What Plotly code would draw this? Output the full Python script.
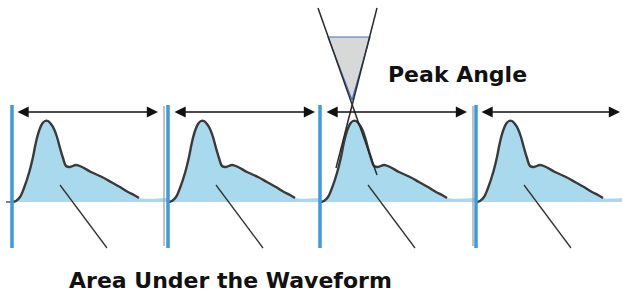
import plotly.graph_objects as go

# ---- data (diagram units: x in px along time, y = amplitude above baseline) ----
period_starts = [12, 168, 320, 476]          # blue marker lines (start of each period)
period_ends = [168, 320, 476, 622]           # where each period's baseline band ends
guide_lines_x = [164, 473]                   # thin gray guide lines
arrow_left = [16, 173, 325, 480]
arrow_right = [158, 315, 467, 620]
arrow_level = 90

wave_dx = [0, 4, 8, 12, 17, 21, 24, 27, 30, 33, 36, 39, 42, 45, 48, 51, 54,
           58, 64, 70, 79, 90, 99, 108, 116, 122, 127]
wave_amp = [0, 1, 5, 14, 29, 45, 60, 71, 78, 81, 81, 78, 73, 65, 54, 44, 36,
            35, 37, 35, 30, 25, 20, 15, 10, 7, 4]
band_amp = 4

marker_top, marker_bottom = 97, -46
leader_dx = [48, 95]
leader_amp = [17, -46]

# peak angle construction (3rd period)
tangent1_x = [318, 377]
tangent1_y = [194, 27]
tangent2_x = [377, 336]
tangent2_y = [194, 34]
angle_tri_x = [328, 370, 352, 328]
angle_tri_y = [165, 165, 102, 165]

label_peak = "Peak Angle"
label_area = "Area Under the Waveform"

FILL = "#A9D9EC"
BLUE = "#3B9BDC"
OUTLINE = "#3a3a3a"

fig = go.Figure()

# baseline tick at left
fig.add_trace(go.Scatter(x=[6, 12], y=[0, 0], mode="lines",
                         line=dict(color="#555", width=1.5), hoverinfo="skip"))

for i, x0 in enumerate(period_starts):
    xs = [x0 + d for d in wave_dx] + [period_ends[i]]
    ys = list(wave_amp) + [band_amp]
    fig.add_trace(go.Scatter(x=xs, y=ys, mode="lines", fill="tozeroy",
                             fillcolor=FILL, line=dict(width=0, color=FILL),
                             line_shape="spline", hoverinfo="skip"))
    fig.add_trace(go.Scatter(x=[x0 + d for d in wave_dx], y=wave_amp, mode="lines",
                             line=dict(color=OUTLINE, width=2.4, shape="spline"),
                             hoverinfo="skip"))
    # leader line
    fig.add_trace(go.Scatter(x=[x0 + d for d in leader_dx], y=leader_amp, mode="lines",
                             line=dict(color="#333", width=1.3), hoverinfo="skip"))

for gx in guide_lines_x:
    fig.add_trace(go.Scatter(x=[gx, gx], y=[marker_top - 1, marker_bottom + 2], mode="lines",
                             line=dict(color="#9a9a9a", width=1.2), hoverinfo="skip"))

for x0 in period_starts:
    fig.add_trace(go.Scatter(x=[x0, x0], y=[marker_top, marker_bottom], mode="lines",
                             line=dict(color=BLUE, width=3.5), hoverinfo="skip"))

# peak angle triangle and tangents
fig.add_trace(go.Scatter(x=angle_tri_x, y=angle_tri_y, mode="lines", fill="toself",
                         fillcolor="#D8D8D8", line=dict(color="#4D6FBF", width=1.2),
                         hoverinfo="skip"))
fig.add_trace(go.Scatter(x=tangent1_x, y=tangent1_y, mode="lines",
                         line=dict(color="#2a2a2a", width=1.5), hoverinfo="skip"))
fig.add_trace(go.Scatter(x=tangent2_x, y=tangent2_y, mode="lines",
                         line=dict(color="#2a2a2a", width=1.5), hoverinfo="skip"))

annotations = []
for a, b in zip(arrow_left, arrow_right):
    annotations.append(dict(x=b, y=arrow_level, ax=a, ay=arrow_level, xref="x", yref="y",
                            axref="x", ayref="y", text="", showarrow=True,
                            arrowhead=2, arrowside="end+start", arrowsize=1.4,
                            arrowwidth=1.6, arrowcolor="#111"))

annotations.append(dict(x=457, y=128, xref="x", yref="y", text=label_peak, showarrow=False,
                        font=dict(family="DejaVu Sans", size=22, color="#111", weight="bold"),
                        xanchor="center", yanchor="middle"))
annotations.append(dict(x=230, y=-78, xref="x", yref="y", text=label_area, showarrow=False,
                        font=dict(family="DejaVu Sans", size=22, color="#111", weight="bold"),
                        xanchor="center", yanchor="middle"))

fig.update_layout(
    width=622, height=297, margin=dict(l=0, r=0, t=0, b=0),
    paper_bgcolor="white", plot_bgcolor="white", showlegend=False,
    xaxis=dict(range=[0, 622], visible=False, fixedrange=True),
    yaxis=dict(range=[-95, 202], visible=False, fixedrange=True),
    annotations=annotations,
)

fig.write_html("out.html", config={"displayModeBar": False},
               post_script="document.body.style.margin='0';document.body.style.overflow='hidden';")
